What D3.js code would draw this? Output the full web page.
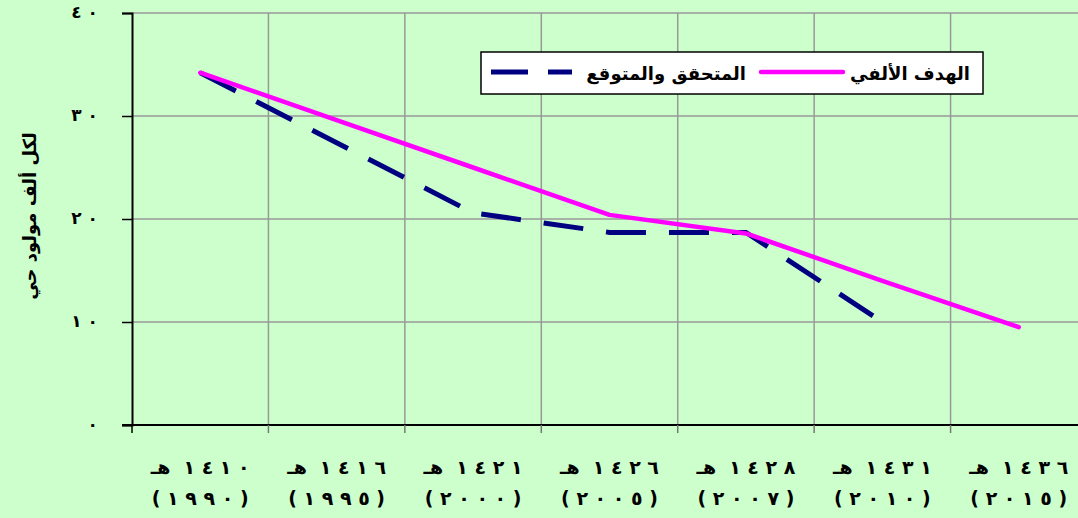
<!DOCTYPE html>
<html>
<head>
<meta charset="utf-8">
<script src="https://cdn.jsdelivr.net/npm/d3@7"></script>
<style>
  body{margin:0;background:#ccffcc;}
  svg{display:block;font-family:"DejaVu Sans",sans-serif;font-weight:bold;}
  .num{unicode-bidi:bidi-override;direction:ltr;}
</style>
</head>
<body>
<script>
// hijri year labels (with suffix) and gregorian years under them
const hijri = ['١٤١٠','١٤١٦','١٤٢١','١٤٢٦','١٤٢٨','١٤٣١','١٤٣٦'];
const hijriSuffix = 'هـ';
const greg = ['١٩٩٠','١٩٩٥','٢٠٠٠','٢٠٠٥','٢٠٠٧','٢٠١٠','٢٠١٥'];
// series
const target = [34.2, 29.6, 25.0, 20.4, 18.6, 14.0, 9.5];     // الهدف الألفي
const actual = [34.2, 27.4, 20.6, 18.7, 18.7, 10.0, null];    // المتحقق والمتوقع
const yTicks = [0, 10, 20, 30, 40];
const yTickLabels = ['٠','١٠','٢٠','٣٠','٤٠'];
const yTitle = 'لكل ألف مولود حي';
const legendNames = ['الهدف الألفي','المتحقق والمتوقع'];

const W = 1078, H = 518;
const pLeft = 132, pRight = 1087, pTop = 13, pBottom = 425;

// chrome drops letter-spacing on arabic digits, so space them by hand
const spaced = s => s.split('').join(' ')

const svg = d3.select('body').append('svg').attr('width',W).attr('height',H)
svg.append('rect').attr('width',W).attr('height',H).attr('fill','#ccffcc')

const x = d3.scaleBand().domain(d3.range(hijri.length)).range([pLeft,pRight]).paddingInner(0).paddingOuter(0)
const y = d3.scaleLinear().domain([0,40]).range([pBottom,pTop])
const cx = i => x(i) + x.bandwidth()/2

// grid
const grid = svg.append('g')
grid.selectAll('line.h').data(yTicks.slice(1)).enter().append('line')
  .attr('x1',pLeft).attr('x2',W).attr('y1',d=>y(d)).attr('y2',d=>y(d))
  .attr('stroke','#999').attr('stroke-width',1.5)
grid.selectAll('line.v').data(d3.range(1,hijri.length)).enter().append('line')
  .attr('x1',d=>x(d)).attr('x2',d=>x(d)).attr('y1',pTop).attr('y2',pBottom)
  .attr('stroke','#999').attr('stroke-width',1.5)

// y axis
const yAxis = d3.axisLeft(y).tickValues(yTicks).tickSize(10).tickPadding(24)
  .tickFormat((d,i)=>spaced(yTickLabels[i]))
const ya = svg.append('g').attr('transform','translate('+pLeft+',0)').call(yAxis)
ya.select('.domain').attr('stroke','#000').attr('stroke-width',2)
ya.selectAll('.tick line').attr('stroke','#000').attr('stroke-width',1.5)
ya.selectAll('.tick text').attr('class','num').attr('font-size',17).attr('font-weight','bold')
  .attr('font-family','"DejaVu Sans",sans-serif').attr('fill','#000').attr('dy','0.25em')

// x axis line + ticks
svg.append('line').attr('x1',pLeft-10).attr('x2',W).attr('y1',pBottom).attr('y2',pBottom)
  .attr('stroke','#000').attr('stroke-width',2)
svg.selectAll('line.xt').data(d3.range(0,hijri.length)).enter().append('line')
  .attr('x1',d=>x(d)).attr('x2',d=>x(d)).attr('y1',pBottom).attr('y2',pBottom+8)
  .attr('stroke',(d,i)=>i==0?'#000':'#777').attr('stroke-width',1.5)

// x labels: suffix + spaced digits on first line, (year) on second
const xl = svg.append('g')
hijri.forEach((t,i)=>{
  const g = xl.append('g')
  const suf = g.append('text').attr('y',474).attr('text-anchor','end').attr('font-size',19).text(hijriSuffix)
  const dig = g.append('text').attr('class','num').attr('y',474).attr('text-anchor','start').attr('font-size',19).text(spaced(t))
  const ws = suf.node().getComputedTextLength(), wd = dig.node().getComputedTextLength()
  const gap = 13
  const x0 = cx(i) - (ws+gap+wd)/2 + ws
  suf.attr('x',x0)
  dig.attr('x',x0+gap)
  g.append('text').attr('class','num').attr('x',cx(i)).attr('y',505).attr('text-anchor','middle')
    .attr('font-size',19).text('( '+spaced(greg[i])+' )')
})

// y title
svg.append('text').attr('transform','translate(36,216) rotate(-90)')
  .attr('text-anchor','middle').attr('font-size',18).text(yTitle)

// lines
const line = d3.line().defined(d=>d!=null).x((d,i)=>cx(i)).y(d=>y(d))
svg.append('path').datum(actual).attr('d',line).attr('fill','none')
  .attr('stroke','#000080').attr('stroke-width',5).attr('stroke-dasharray','40,23')
svg.append('path').datum(target).attr('d',line).attr('fill','none')
  .attr('stroke','#ff00ff').attr('stroke-width',4.5).attr('stroke-linecap','round').attr('stroke-linejoin','round')

// legend
const lg = svg.append('g').attr('id','legend')
lg.append('rect').attr('x',481).attr('y',52).attr('width',502).attr('height',42)
  .attr('fill','#fff').attr('stroke','#000').attr('stroke-width',1.5)
lg.append('line').attr('x1',761).attr('x2',843).attr('y1',72).attr('y2',72)
  .attr('stroke','#ff00ff').attr('stroke-width',4.5).attr('stroke-linecap','round')
lg.append('text').attr('x',970).attr('y',80).attr('text-anchor','end').attr('font-size',18).text(legendNames[0])
lg.append('line').attr('x1',491).attr('x2',572).attr('y1',72).attr('y2',72)
  .attr('stroke','#000080').attr('stroke-width',5).attr('stroke-dasharray','37,20')
lg.append('text').attr('x',746).attr('y',80).attr('text-anchor','end').attr('font-size',18).text(legendNames[1])
</script>
</body>
</html>
